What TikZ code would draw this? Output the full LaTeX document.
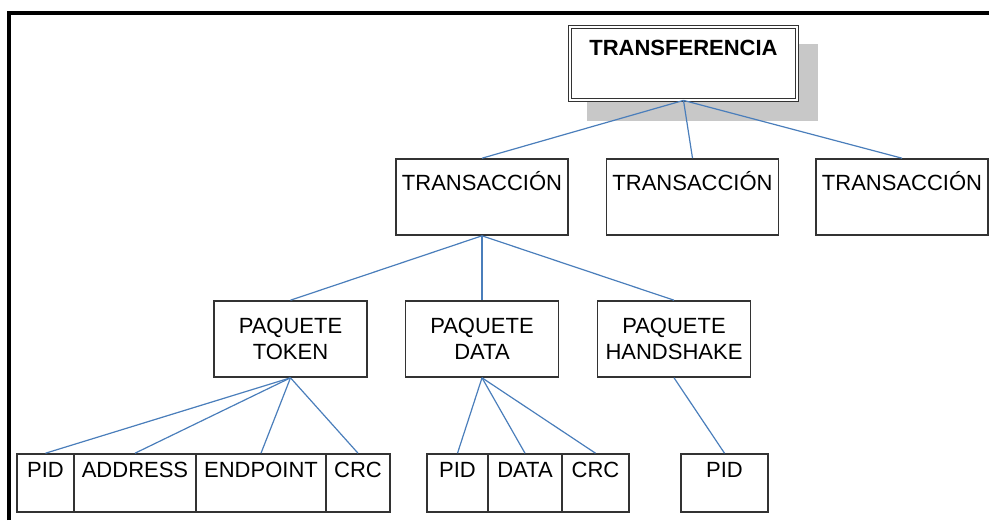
\documentclass[tikz,border=0pt]{standalone}
\usepackage{fontspec}
\setmainfont{Liberation Sans}
\definecolor{azulenlace}{RGB}{74,126,187}
\definecolor{grissombra}{RGB}{200,200,200}
\tikzset{
  caja/.style={draw=black!80,line width=0.8pt,inner xsep=0pt,minimum width=#1},
  arriba/.style 2 args={text height=8pt,inner ysep=#1,text depth=#2},
  conector/.style={draw=azulenlace,line width=0.6pt}
}
\begin{document}
\begin{tikzpicture}[x=0.5pt,y=-0.5pt,font=\fontsize{11}{13}\selectfont]
\useasboundingbox (0,0) rectangle (989,520);
\pgfmathsetmacro{\kyt}{197}
\pgfmathsetmacro{\kyp}{339}
\pgfmathsetmacro{\kyc}{483}
\draw[line width=1.7pt](9,520)|-(989,13);
\fill[grissombra](587,44)rectangle(818,121);
\node[caja=113.3pt,fill=white,line width=0.6pt,double,double distance=1pt,arriba={6.35pt}{15.6pt},font=\fontsize{11}{13}\selectfont\bfseries](tf) at (683.5,63.5){TRANSFERENCIA};
\foreach \kx/\knom in {482/tr1,692.5/tr2,902/tr3}{\node[caja=86pt,arriba={7.95pt}{14.1pt}](\knom) at (\kx,\kyt){TRANSACCI\'ON};}
\foreach \kx/\knom/\klb in {290.5/pt/TOKEN,482/pd/DATA,674/ph/HANDSHAKE}{\node[caja=76.5pt,minimum height=38pt,align=center](\knom) at (\kx,\kyp){PAQUETE\\\klb};}
\foreach \xa/\xb/\knom/\klb in {17/74/pid1/PID,74/196/addr/ADDRESS,196/326/endp/ENDPOINT,326/390/crc1/CRC,427/488/pid2/PID,488/562/dat/DATA,562/629/crc2/CRC,681/768/pid3/PID}{\node[caja={(\xb-\xa)*0.5pt},arriba={3.95pt}{13.1pt}](\knom) at ({(\xa+\xb)/2},\kyc){\klb};}
\foreach \khijo in {tr1,tr2,tr3}{\draw[conector](tf.south)--(\khijo.north);}
\foreach \khijo in {pt,pd,ph}{\draw[conector](tr1.south)--(\khijo.north);}
\foreach \khijo in {pid1,addr,endp,crc1}{\draw[conector](pt.south)--(\khijo.north);}
\foreach \khijo in {pid2,dat,crc2}{\draw[conector](pd.south)--(\khijo.north);}
\draw[conector](ph.south)--(pid3.north);
\end{tikzpicture}
\end{document}
